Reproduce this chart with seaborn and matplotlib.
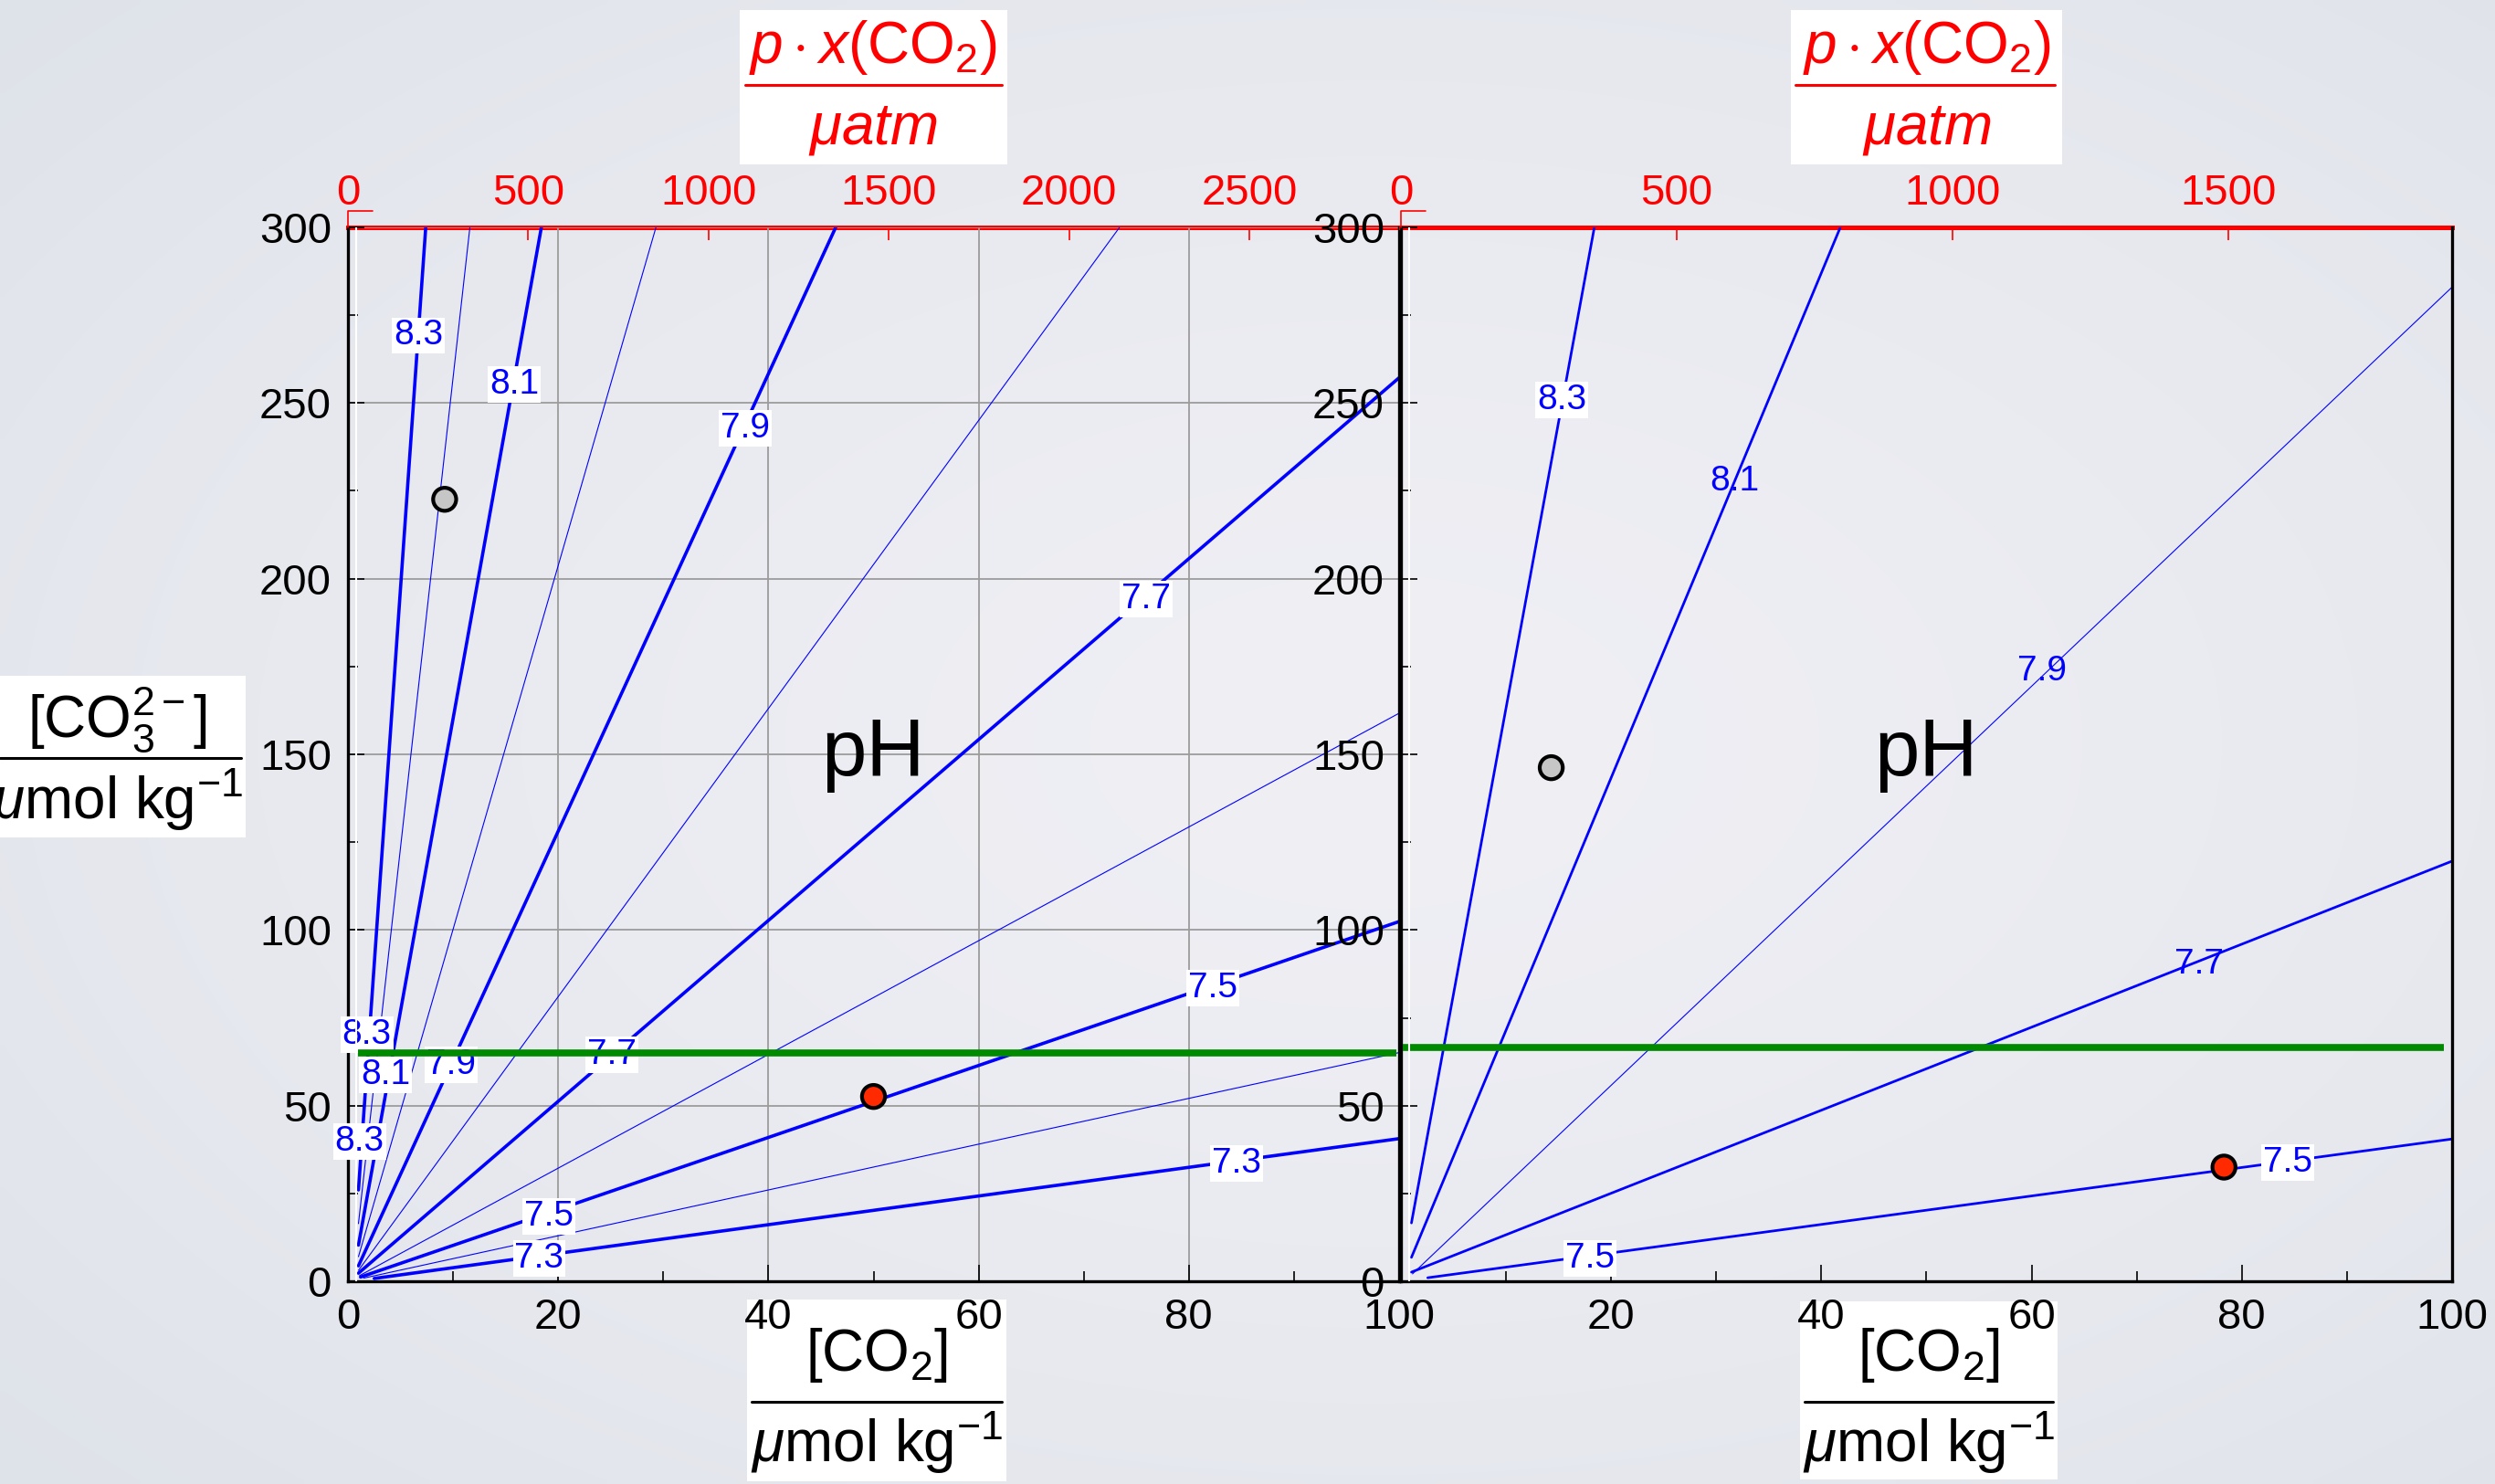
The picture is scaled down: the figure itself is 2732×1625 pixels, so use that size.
import numpy as np
import pandas as pd
import matplotlib.pyplot as plt
import seaborn as sns
from matplotlib.lines import Line2D
from matplotlib.patches import Rectangle
from matplotlib.ticker import MultipleLocator

# ---- data ----
# left panel: pH isolines, start and end points ([CO2], [CO3 2-]) in umol/kg
left_ph = ['8.3', '8.2', '8.1', '8.0', '7.9', '7.8', '7.7', '7.6', '7.5', '7.4', '7.3']
left_weight = ['thick', 'thin', 'thick', 'thin', 'thick', 'thin', 'thick', 'thin', 'thick', 'thin', 'thick']
left_x0 = [1.0, 1.0, 1.0, 1.0, 1.0, 1.0, 1.0, 1.1, 1.2, 1.5, 2.5]
left_y0 = [26.0, 16.4, 10.3, 7.0, 4.4, 3.1, 2.3, 1.6, 1.2, 0.9, 0.8]
left_x1 = [7.4, 11.6, 18.4, 29.3, 46.4, 73.4, 100, 100, 100, 100, 100]
left_y1 = [300, 300, 300, 300, 300, 300, 257.2, 161.7, 102.4, 65.1, 40.6]

left_lab_text = ['8.3', '8.1', '7.9', '7.7', '7.5', '7.3', '8.3', '8.1', '7.9', '7.7', '8.3', '7.5', '7.3']
left_lab_x = [6.7, 15.8, 37.8, 75.9, 82.3, 84.5, 1.8, 3.6, 9.8, 25.1, 1.1, 19.1, 18.2]
left_lab_y = [269.2, 255.3, 242.9, 194.2, 83.5, 33.6, 70.1, 58.7, 61.6, 64.5, 39.8, 18.5, 6.6]

left_pts_x = [9.2, 50.0]
left_pts_y = [222.6, 52.6]
left_green_y = 65.1
left_green_x = [0.93, 99.7]
left_k0 = 0.0343          # umol/kg per uatm (top axis scale)
left_top_ticks = [0, 500, 1000, 1500, 2000, 2500]

# right panel
right_ph = ['8.3', '8.1', '7.9', '7.7', '7.5']
right_weight = ['mid', 'mid', 'thin', 'mid', 'mid']
right_x0 = [1.0, 1.0, 1.1, 1.0, 2.55]
right_y0 = [16.6, 6.8, 2.1, 2.6, 1.0]
right_x1 = [18.4, 41.8, 100, 100, 100]
right_y1 = [300, 300, 283.0, 119.6, 40.5]

right_lab_text = ['8.3', '8.1', '7.9', '7.7', '7.5', '7.5']
right_lab_x = [15.3, 31.7, 61.0, 75.9, 84.4, 18.0]
right_lab_y = [250.8, 227.6, 173.6, 90.3, 33.7, 6.55]
right_lab_box = [True, False, False, False, True, True]

right_pts_x = [14.3, 78.3]
right_pts_y = [146.2, 32.5]
right_green_y = 66.5
right_green_x = [0.2, 99.2]
right_k0 = 0.0525
right_top_ticks = [0, 500, 1000, 1500]

x_ticks = [0, 20, 40, 60, 80, 100]
y_ticks = [0, 50, 100, 150, 200, 250, 300]

# ---- style ----
sns.set_theme(style='ticks')
plt.rcParams['font.family'] = ['Liberation Sans', 'DejaVu Sans']
plt.rcParams['mathtext.fontset'] = 'custom'
plt.rcParams['mathtext.rm'] = 'Liberation Sans'
plt.rcParams['mathtext.it'] = 'Liberation Sans:italic'
plt.rcParams['mathtext.bf'] = 'Liberation Sans:bold'

W, H = 2732, 1625
BG = '#e2e5eb'
fig = plt.figure(figsize=(W / 100, H / 100), dpi=100, facecolor=BG)

# soft slide-like background (lighter in the middle)
bg = fig.add_axes([0, 0, 1, 1], zorder=-10)
gy, gx = np.mgrid[0:1:200j, 0:1:300j]
r = np.clip(np.hypot((gx - 0.55) / 0.75, (gy - 0.5) / 0.75), 0, 1)
c_in = np.array([239, 239, 244]) / 255
c_out = np.array([222, 226, 233]) / 255
bg.imshow(c_in + (c_out - c_in) * r[..., None] ** 1.5, aspect='auto',
          extent=[0, 1, 0, 1], interpolation='bilinear')
bg.axis('off')


def px_box(x0, y0, x1, y1):
    return [x0 / W, 1 - y1 / H, (x1 - x0) / W, (y1 - y0) / H]


ax_l = fig.add_axes(px_box(381, 249, 1532, 1403))
ax_r = fig.add_axes(px_box(1534, 249, 2685, 1403))

widths = {'thick': 2.6, 'mid': 2.0, 'thin': 0.8}


def draw_panel(ax, ph, weight, x0, y0, x1, y1, labx, laby, labt, labbox,
               ptsx, ptsy, green_x, green_y, k0, top_ticks, grid):
    ax.patch.set_alpha(0)
    rows = []
    for i in range(len(ph)):
        rows.append((x0[i], y0[i], ph[i], weight[i]))
        rows.append((x1[i], y1[i], ph[i], weight[i]))
    df = pd.DataFrame(rows, columns=['co2', 'co3', 'ph', 'weight'])
    sns.lineplot(data=df, x='co2', y='co3', units='ph', estimator=None,
                 size='weight', sizes={w: widths[w] for w in set(weight)},
                 color='#0000ff', legend=False, ax=ax, zorder=2)

    for t, x, y, b in zip(labt, labx, laby, labbox):
        kw = dict(facecolor='white', edgecolor='none', pad=1.5) if b else None
        ax.text(x, y, t, color='#0000ff', fontsize=28, ha='center', va='center',
                bbox=kw, zorder=3, clip_on=False)

    ax.plot(green_x, [green_y, green_y], color='#008a00', lw=5.5, zorder=4,
            solid_capstyle='butt')
    ax.axvline(0.75, color='white', lw=1.5, zorder=4.5)

    sns.scatterplot(x=ptsx, y=ptsy, hue=['a', 'b'], palette=['#c6c6c6', '#ff2a00'],
                    s=330, edgecolor='black', linewidth=3, legend=False, ax=ax, zorder=6)

    ax.text(50, 150, 'pH', fontsize=64, ha='center', va='center', color='black')

    ax.set_xlim(0, 100)
    ax.set_ylim(0, 300)
    ax.set_xlabel('')
    ax.set_ylabel('')
    ax.set_xticks(x_ticks)
    ax.set_yticks(y_ticks)
    ax.xaxis.set_minor_locator(MultipleLocator(10))
    ax.yaxis.set_minor_locator(MultipleLocator(25))
    ax.tick_params(which='major', direction='in', length=13, width=1.2,
                   labelsize=34, color='black', labelcolor='black')
    ax.tick_params(which='minor', direction='in', length=8, width=1.2, color='black')
    ax.tick_params(axis='x', pad=13)
    ax.tick_params(axis='y', pad=13)
    ax.tick_params(top=False, right=False, which='both')
    if grid:
        ax.grid(True, which='major', color='#9c9c9c', lw=1.3)
    else:
        ax.grid(False)
    ax.set_axisbelow(True)

    for s in ['left', 'bottom', 'right']:
        ax.spines[s].set_color('black')
        ax.spines[s].set_linewidth(2.4)
        ax.spines[s].set_visible(True)
    ax.spines['top'].set_visible(False)

    sec = ax.secondary_xaxis('top', functions=(lambda c: c / k0, lambda p: p * k0))
    sec.set_xticks(top_ticks)
    sec.tick_params(direction='in', length=10, width=1.2, color='red',
                    labelcolor='red', labelsize=34, pad=11)
    sec.spines['top'].set_color('red')
    sec.spines['top'].set_linewidth(3.6)
    return sec


draw_panel(ax_l, left_ph, left_weight, left_x0, left_y0, left_x1, left_y1,
           left_lab_x, left_lab_y, left_lab_text, [True] * len(left_lab_text),
           left_pts_x, left_pts_y, left_green_x, left_green_y, left_k0,
           left_top_ticks, grid=True)
draw_panel(ax_r, right_ph, right_weight, right_x0, right_y0, right_x1, right_y1,
           right_lab_x, right_lab_y, right_lab_text, right_lab_box,
           right_pts_x, right_pts_y, right_green_x, right_green_y, right_k0,
           right_top_ticks, grid=False)
ax_r.set_xticklabels([''] + [str(t) for t in x_ticks[1:]])

# small red corner marks above the top-left of each panel
for xs in [381, 1534]:
    fig.add_artist(Line2D([xs / W, xs / W, (xs + 27) / W],
                          [1 - 249 / H, 1 - 231 / H, 1 - 231 / H],
                          transform=fig.transFigure, color='red', lw=1.2))


def frac_label(xc, box, yline, line_x, top, ytop, bot, ybot, color, fs=46):
    bx0, by0, bx1, by1 = box
    fig.add_artist(Rectangle((bx0 / W, 1 - by1 / H), (bx1 - bx0) / W, (by1 - by0) / H,
                             transform=fig.transFigure, facecolor='white',
                             edgecolor='none', zorder=-1))
    fig.add_artist(Line2D([line_x[0] / W, line_x[1] / W], [1 - yline / H] * 2,
                          transform=fig.transFigure, color=color, lw=2.2))
    fig.text(xc / W, 1 - ytop / H, top, ha='center', va='center', color=color, fontsize=fs)
    fig.text(xc / W, 1 - ybot / H, bot, ha='center', va='center', color=color, fontsize=fs)


unit = r'$\mu$mol kg$^{-1}$'
# top (red) axis titles
frac_label(956, (810, 11, 1103, 180), 93, (816, 1097),
           r'$p\cdot x(\mathrm{CO}_2)$', 52, r'$\mu atm$', 142, 'red')
frac_label(2110, (1961, 11, 2258, 180), 93, (1966, 2250),
           r'$p\cdot x(\mathrm{CO}_2)$', 52, r'$\mu atm$', 142, 'red')
# bottom axis titles
frac_label(960, (818, 1423, 1102, 1622), 1535, (823, 1097),
           r'[CO$_2$]', 1484, unit, 1580, 'black')
frac_label(2112, (1971, 1425, 2253, 1620), 1535, (1976, 2248),
           r'[CO$_2$]', 1484, unit, 1580, 'black')
# y axis title
frac_label(128, (0, 740, 269, 917), 830, (0, 264),
           r'[CO$_3^{2-}$]', 788, unit, 876, 'black')

fig.savefig('out.png', dpi=100, facecolor=BG)
